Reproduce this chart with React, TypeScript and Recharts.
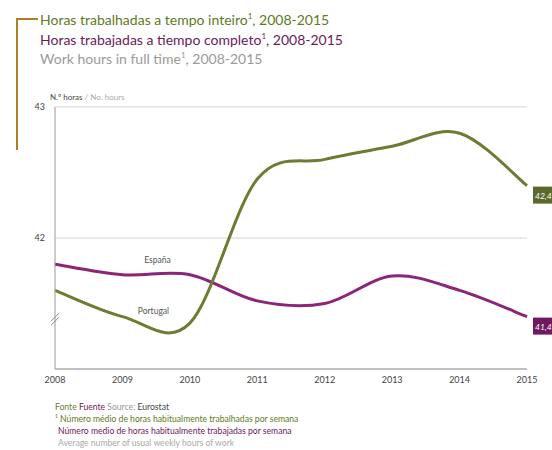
import { LineChart, Line, XAxis, YAxis, CartesianGrid, ReferenceDot } from "recharts";

/* ── Data ── */
const years = ["2008", "2009", "2010", "2011", "2012", "2013", "2014", "2015"];
const portugal = [41.6, 41.4, 41.35, 42.45, 42.6, 42.7, 42.8, 42.4];
const espana = [41.8, 41.72, 41.72, 41.52, 41.5, 41.71, 41.6, 41.4];
const yTicks = [42, 43];
const lastLabels = { portugal: "42,4", espana: "41,4" };

const rows = years.map((year, i) => ({ year, portugal: portugal[i], espana: espana[i] }));

/* ── Colours ── */
const OLIVE = "#6d7b33";
const OLIVE_BOX = "#5b6a2c";
const PURPLE = "#8a2577";
const PURPLE_BOX = "#6f1a60";
const FONT = "Lato, 'Open Sans', sans-serif";

/* ── Excel-like smooth line (Catmull-Rom through the points) ── */
const smooth = (context: any) => {
  let pts: number[][] = [];
  return {
    areaStart() {},
    areaEnd() {},
    lineStart() { pts = []; },
    point(x: number, y: number) { pts.push([+x, +y]); },
    lineEnd() {
      if (!pts.length) return;
      context.moveTo(pts[0][0], pts[0][1]);
      for (let i = 0; i < pts.length - 1; i++) {
        const p0 = pts[i - 1] || pts[i];
        const p1 = pts[i];
        const p2 = pts[i + 1];
        const p3 = pts[i + 2] || p2;
        context.bezierCurveTo(
          p1[0] + (p2[0] - p0[0]) / 6, p1[1] + (p2[1] - p0[1]) / 6,
          p2[0] - (p3[0] - p1[0]) / 6, p2[1] - (p3[1] - p1[1]) / 6,
          p2[0], p2[1],
        );
      }
    },
  };
};

const endLabel = (fill: string, text: string, inline?: { name: string; dx: number; dy: number }) =>
  (props: any) => {
    const { x, y, index } = props;
    if (index === years.length - 1) {
      return (
        <g key={`end-${index}`}>
          <rect x={x + 6} y={y + 1} width={30} height={17} fill={fill} />
          <text x={x + 8} y={y + 13} fill="#fff" fontSize={8.5} fontStyle="italic" fontFamily={FONT}>{text}</text>
        </g>
      );
    }
    if (inline && index === 1) {
      return (
        <text key={`name-${index}`} x={x + inline.dx} y={y + inline.dy} fill="#555" fontSize={8.5} fontFamily={FONT} textAnchor="middle">
          {inline.name}
        </text>
      );
    }
    return null;
  };

const BreakMark = (props: any) => {
  const { cx, cy } = props;
  return (
    <g stroke="#888" strokeWidth={1}>
      <line x1={cx - 4} y1={cy + 2} x2={cx + 4} y2={cy - 6} />
      <line x1={cx - 4} y1={cy + 6} x2={cx + 4} y2={cy - 2} />
    </g>
  );
};

const supStyle = { fontSize: 8, lineHeight: 0 };

export default function App() {
  return (
    <div style={{ position: "absolute", left: 0, top: 0, width: 552, height: 450, background: "#fff", fontFamily: FONT, overflow: "hidden" }}>
      {/* bracket */}
      <div style={{ position: "absolute", left: 16, top: 18, width: 2, height: 132, background: "#b07d2a" }} />
      <div style={{ position: "absolute", left: 16, top: 18, width: 22, height: 2, background: "#b07d2a" }} />

      {/* titles */}
      <div style={{ position: "absolute", left: 40, top: 10, fontSize: 14, lineHeight: "19.5px" }}>
        <div style={{ color: "#5f7a22" }}>Horas trabalhadas a tempo inteiro<sup style={supStyle}>1</sup>, 2008-2015</div>
        <div style={{ color: "#6b1a5a" }}>Horas trabajadas a tiempo completo<sup style={supStyle}>1</sup>, 2008-2015</div>
        <div style={{ color: "#9a9a9a" }}>Work hours in full time<sup style={supStyle}>1</sup>, 2008-2015</div>
      </div>

      <div style={{ position: "absolute", left: 50, top: 92, fontSize: 8 }}>
        <span style={{ color: "#444" }}>N.º horas</span>
        <span style={{ color: "#aaa" }}> / No. hours</span>
      </div>

      <div style={{ position: "absolute", left: 0, top: 0 }}>
        <LineChart width={552} height={450} data={rows} margin={{ top: 107, right: 25, bottom: 51, left: 35 }}>
          <CartesianGrid vertical={false} stroke="#d4d4d4" />
          <XAxis
            dataKey="year"
            axisLine={{ stroke: "#999" }}
            tickLine={false}
            tick={{ fill: "#444", fontSize: 9, fontFamily: FONT }}
            tickMargin={2}
            interval={0}
            height={30}
          />
          <YAxis
            domain={[41, 43]}
            ticks={yTicks}
            width={20}
            axisLine={{ stroke: "#999" }}
            tickLine={false}
            tick={{ fill: "#444", fontSize: 9, fontFamily: FONT }}
            tickMargin={4}
          />
          <Line
            dataKey="espana"
            name="España"
            type={smooth as any}
            stroke={PURPLE}
            strokeWidth={3}
            dot={false}
            isAnimationActive={false}
            label={endLabel(PURPLE_BOX, lastLabels.espana, { name: "España", dx: 35, dy: -12 })}
          />
          <Line
            dataKey="portugal"
            name="Portugal"
            type={smooth as any}
            stroke={OLIVE}
            strokeWidth={3}
            dot={false}
            isAnimationActive={false}
            label={endLabel(OLIVE_BOX, lastLabels.portugal, { name: "Portugal", dx: 31, dy: -3 })}
          />
          <ReferenceDot x="2008" y={41.38} r={0} shape={BreakMark} ifOverflow="visible" />
        </LineChart>
      </div>

      {/* footer */}
      <div style={{ position: "absolute", left: 55, top: 401, fontSize: 8.6, lineHeight: "12px" }}>
        <div>
          <span style={{ color: "#6d7b33" }}>Fonte </span>
          <span style={{ color: "#6b1a5a" }}>Fuente </span>
          <span style={{ color: "#999" }}>Source: </span>
          <span style={{ color: "#444" }}>Eurostat</span>
        </div>
        <div style={{ color: "#5f7a22" }}><sup style={{ fontSize: 5, lineHeight: 0 }}>1</sup> Número médio de horas habitualmente trabalhadas por semana</div>
        <div style={{ color: "#6b1a5a", paddingLeft: 3 }}>Número medio de horas habitualmente trabajadas por semana</div>
        <div style={{ color: "#aaa", paddingLeft: 3 }}>Average number of usual weekly hours of work</div>
      </div>
    </div>
  );
}
